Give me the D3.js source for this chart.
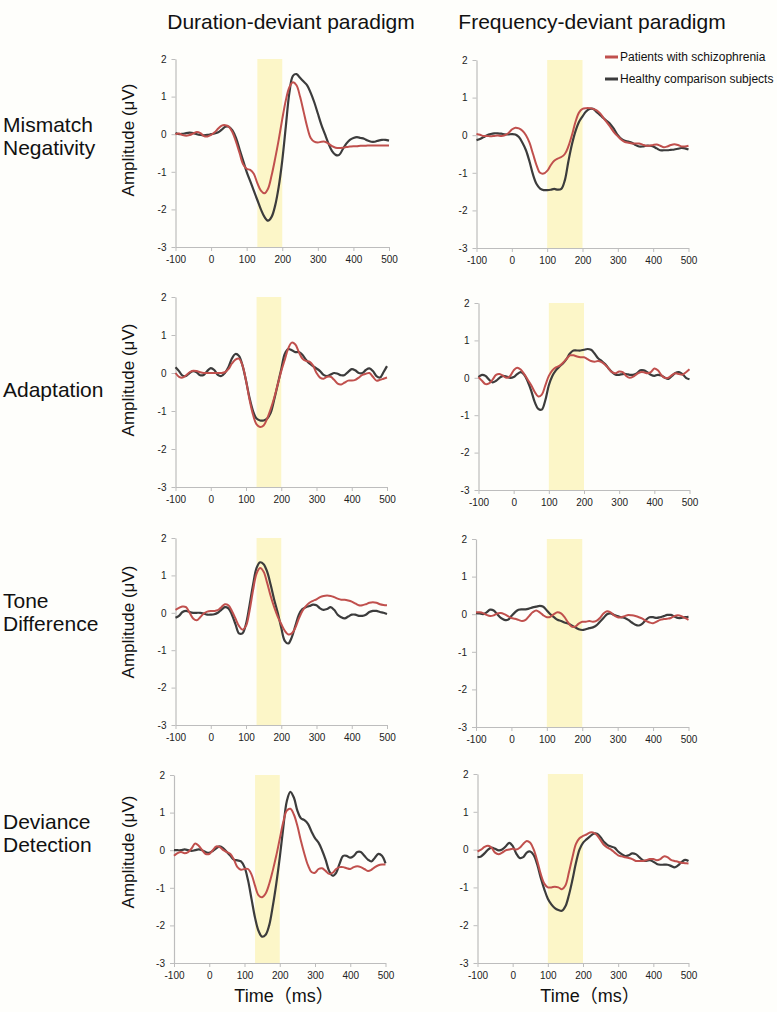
<!DOCTYPE html>
<html>
<head>
<meta charset="utf-8">
<script src="https://cdn.jsdelivr.net/npm/d3@7"></script>
<style>
  html, body { margin: 0; padding: 0; background: #fefefb; }
  svg { display: block; font-family: "Liberation Sans", Arial, "Noto Sans CJK JP", sans-serif; }
</style>
</head>
<body>
<svg id="chart" width="777" height="1012"></svg>
<script>
// ---------------- DATA ----------------
const times = d3.range(-100, 501, 10);
const columnTitles = ["Duration-deviant paradigm", "Frequency-deviant paradigm"];
const rowLabels = [["Mismatch", "Negativity"], ["Adaptation"], ["Tone", "Difference"], ["Deviance", "Detection"]];
const seriesNames = ["Patients with schizophrenia", "Healthy comparison subjects"];
const xTicks = [-100, 0, 100, 200, 300, 400, 500];
const yTicks = [-3, -2, -1, 0, 1, 2];
const shadeWindows = [[130, 200], [100, 200]]; // duration, frequency
const yAxisTitle = "Amplitude (\u03bcV)";
const xAxisTitle = "Time\uff08ms\uff09";

// Duration-deviant, Mismatch Negativity
const durMmnPatients = [0.0,0.02,-0.02,-0.04,-0.02,0.02,0.06,0.03,-0.05,-0.06,-0.02,0.05,0.15,0.23,0.24,0.2,0.05,-0.2,-0.5,-0.8,-0.92,-0.95,-1.05,-1.3,-1.5,-1.57,-1.45,-1.1,-0.65,-0.15,0.4,0.9,1.25,1.38,1.3,1.0,0.6,0.2,-0.1,-0.2,-0.22,-0.2,-0.2,-0.25,-0.32,-0.36,-0.37,-0.36,-0.34,-0.33,-0.32,-0.32,-0.31,-0.31,-0.3,-0.3,-0.3,-0.3,-0.3,-0.3,-0.3];
const durMmnHealthy = [0.03,0.0,0.01,0.03,0.04,0.03,0.0,-0.02,-0.03,-0.02,0.0,0.02,0.05,0.12,0.2,0.2,0.1,-0.1,-0.4,-0.7,-1.0,-1.25,-1.5,-1.75,-2.0,-2.2,-2.3,-2.2,-1.9,-1.4,-0.7,0.2,1.1,1.55,1.6,1.5,1.4,1.3,1.1,0.85,0.55,0.25,0.0,-0.25,-0.45,-0.55,-0.55,-0.4,-0.25,-0.15,-0.1,-0.08,-0.1,-0.12,-0.17,-0.2,-0.2,-0.17,-0.15,-0.15,-0.17];
// Frequency-deviant, Mismatch Negativity
const freqMmnPatients = [0.03,0.01,-0.02,-0.02,-0.03,-0.02,-0.01,-0.02,0.0,0.05,0.15,0.2,0.18,0.12,0.0,-0.2,-0.5,-0.8,-1.0,-1.02,-0.95,-0.8,-0.68,-0.62,-0.58,-0.5,-0.3,0.0,0.35,0.6,0.7,0.72,0.72,0.7,0.66,0.58,0.45,0.33,0.2,0.07,-0.03,-0.12,-0.18,-0.2,-0.22,-0.22,-0.22,-0.25,-0.28,-0.28,-0.26,-0.25,-0.28,-0.32,-0.3,-0.26,-0.24,-0.26,-0.3,-0.3,-0.28];
const freqMmnHealthy = [-0.13,-0.1,-0.05,0.0,0.03,0.05,0.05,0.04,0.02,0.02,0.03,0.02,-0.05,-0.2,-0.4,-0.7,-1.05,-1.3,-1.42,-1.46,-1.46,-1.45,-1.43,-1.45,-1.43,-1.2,-0.7,-0.25,0.1,0.35,0.5,0.63,0.7,0.7,0.62,0.53,0.45,0.37,0.28,0.15,0.0,-0.1,-0.15,-0.17,-0.2,-0.26,-0.3,-0.3,-0.28,-0.28,-0.3,-0.35,-0.4,-0.4,-0.4,-0.39,-0.38,-0.36,-0.34,-0.35,-0.38];
// Duration-deviant, Adaptation
const durAdaPatients = [0.0,-0.1,-0.12,-0.06,0.02,0.06,0.05,0.02,0.0,0.0,0.0,0.0,0.0,0.0,0.02,0.1,0.25,0.35,0.38,0.2,-0.2,-0.7,-1.1,-1.35,-1.42,-1.38,-1.2,-0.95,-0.65,-0.3,0.05,0.35,0.65,0.8,0.75,0.55,0.38,0.32,0.3,0.2,0.0,-0.12,-0.15,-0.1,-0.1,-0.18,-0.28,-0.3,-0.25,-0.2,-0.2,-0.18,-0.12,-0.05,-0.02,0.0,-0.1,-0.2,-0.18,-0.15,-0.12];
const durAdaHealthy = [0.15,0.05,-0.07,-0.08,0.0,0.05,0.02,-0.06,-0.05,0.05,0.13,0.08,-0.05,-0.08,0.0,0.15,0.38,0.5,0.45,0.2,-0.2,-0.65,-1.0,-1.2,-1.25,-1.25,-1.2,-1.05,-0.7,-0.3,0.1,0.5,0.63,0.6,0.55,0.55,0.48,0.35,0.25,0.18,0.12,0.05,-0.05,-0.08,-0.04,0.0,-0.02,-0.06,-0.05,0.03,0.1,0.07,0.0,0.0,0.08,0.12,0.05,-0.08,-0.12,0.02,0.18];
// Frequency-deviant, Adaptation
const freqAdaPatients = [0.02,-0.08,-0.17,-0.15,-0.05,0.08,0.1,0.05,0.0,0.05,0.2,0.27,0.22,0.1,-0.05,-0.2,-0.38,-0.5,-0.45,-0.2,0.05,0.2,0.28,0.32,0.4,0.5,0.6,0.6,0.57,0.55,0.55,0.5,0.45,0.43,0.45,0.42,0.35,0.25,0.15,0.12,0.17,0.15,0.05,0.0,0.03,0.1,0.15,0.15,0.12,0.15,0.25,0.2,0.07,0.0,0.0,0.07,0.12,0.1,0.08,0.15,0.23];
const freqAdaHealthy = [0.02,0.08,0.05,-0.05,-0.12,-0.08,0.0,0.05,0.03,0.0,0.02,0.1,0.15,0.08,-0.1,-0.35,-0.65,-0.83,-0.85,-0.6,-0.2,0.05,0.2,0.3,0.38,0.5,0.65,0.73,0.73,0.73,0.75,0.77,0.75,0.65,0.52,0.45,0.37,0.25,0.15,0.08,0.08,0.1,0.1,0.08,0.08,0.12,0.2,0.2,0.15,0.08,0.05,0.08,0.06,0.0,-0.03,0.05,0.13,0.15,0.1,0.0,-0.04];
// Duration-deviant, Tone Difference
const durTonePatients = [0.08,0.13,0.17,0.15,0.0,-0.15,-0.2,-0.12,-0.02,0.03,0.05,0.05,0.07,0.15,0.23,0.2,0.05,-0.15,-0.35,-0.45,-0.35,0.05,0.6,1.05,1.2,1.1,0.8,0.45,0.15,-0.1,-0.3,-0.48,-0.58,-0.55,-0.4,-0.15,0.05,0.18,0.27,0.32,0.36,0.42,0.45,0.46,0.45,0.42,0.38,0.35,0.35,0.33,0.3,0.25,0.2,0.2,0.23,0.27,0.28,0.27,0.23,0.21,0.2];
const durToneHealthy = [-0.13,-0.08,0.02,0.05,0.02,0.0,0.0,0.0,-0.02,-0.05,-0.05,-0.04,0.0,0.08,0.15,0.12,-0.05,-0.3,-0.55,-0.55,-0.3,0.2,0.75,1.2,1.35,1.3,1.1,0.75,0.35,0.0,-0.4,-0.75,-0.82,-0.65,-0.35,-0.05,0.1,0.15,0.18,0.22,0.2,0.12,0.08,0.1,0.15,0.08,-0.05,-0.12,-0.15,-0.1,-0.05,-0.05,-0.08,-0.08,-0.05,0.02,0.05,0.05,0.02,0.0,-0.03];
// Frequency-deviant, Tone Difference
const freqTonePatients = [0.05,0.05,0.03,-0.02,-0.05,-0.03,0.02,0.03,0.0,-0.05,-0.1,-0.12,-0.15,-0.18,-0.15,-0.05,0.05,0.1,0.05,-0.03,-0.08,-0.07,0.0,0.05,0.02,-0.08,-0.22,-0.33,-0.33,-0.25,-0.2,-0.2,-0.18,-0.2,-0.18,-0.1,0.02,0.08,0.05,-0.03,-0.08,-0.08,-0.05,-0.02,-0.03,-0.05,-0.08,-0.12,-0.18,-0.22,-0.24,-0.2,-0.15,-0.13,-0.12,-0.1,-0.05,-0.03,-0.05,-0.1,-0.15];
const freqToneHealthy = [0.03,0.02,0.0,0.05,0.12,0.1,0.0,-0.1,-0.15,-0.15,-0.05,0.05,0.12,0.13,0.13,0.15,0.18,0.2,0.22,0.2,0.1,0.0,-0.08,-0.15,-0.18,-0.22,-0.25,-0.3,-0.35,-0.4,-0.42,-0.4,-0.37,-0.35,-0.3,-0.2,-0.1,0.0,0.02,-0.02,-0.05,-0.08,-0.1,-0.15,-0.22,-0.28,-0.3,-0.25,-0.15,-0.08,-0.08,-0.1,-0.08,-0.05,-0.02,-0.02,-0.06,-0.1,-0.1,-0.08,-0.07];
// Duration-deviant, Deviance Detection
const durDevPatients = [-0.15,-0.08,-0.05,-0.08,-0.05,0.05,0.18,0.12,0.0,-0.1,-0.1,0.0,0.1,0.08,0.0,-0.05,-0.1,-0.25,-0.45,-0.52,-0.5,-0.5,-0.65,-0.95,-1.2,-1.25,-1.15,-0.9,-0.55,-0.15,0.3,0.75,1.05,1.1,0.95,0.65,0.25,-0.1,-0.4,-0.58,-0.6,-0.5,-0.48,-0.55,-0.63,-0.6,-0.5,-0.45,-0.45,-0.48,-0.5,-0.45,-0.43,-0.45,-0.5,-0.55,-0.52,-0.45,-0.4,-0.38,-0.38];
const durDevHealthy = [0.0,0.0,0.0,0.02,0.0,-0.02,0.0,0.02,0.0,-0.05,-0.07,-0.02,0.05,0.1,0.05,-0.05,-0.15,-0.25,-0.27,-0.3,-0.45,-0.8,-1.3,-1.8,-2.15,-2.3,-2.25,-2.0,-1.5,-0.9,-0.2,0.6,1.3,1.55,1.4,1.05,0.85,0.8,0.7,0.5,0.32,0.2,0.0,-0.25,-0.55,-0.68,-0.6,-0.35,-0.15,-0.15,-0.2,-0.15,-0.05,-0.05,-0.15,-0.25,-0.3,-0.2,-0.1,-0.15,-0.35];
// Frequency-deviant, Deviance Detection
const freqDevPatients = [-0.05,0.0,0.07,0.1,0.05,-0.08,-0.12,-0.08,-0.02,0.0,0.02,0.0,0.05,0.15,0.23,0.18,0.0,-0.3,-0.65,-0.9,-1.0,-1.0,-0.98,-1.0,-1.05,-0.95,-0.6,-0.2,0.15,0.3,0.36,0.4,0.45,0.45,0.38,0.25,0.12,0.05,0.0,-0.08,-0.15,-0.18,-0.2,-0.22,-0.25,-0.3,-0.3,-0.3,-0.28,-0.25,-0.25,-0.28,-0.25,-0.18,-0.2,-0.27,-0.3,-0.32,-0.35,-0.36,-0.37];
const freqDevHealthy = [-0.2,-0.18,-0.1,0.0,0.05,0.02,-0.02,0.0,0.08,0.18,0.1,-0.1,-0.22,-0.2,-0.08,-0.05,-0.15,-0.4,-0.75,-1.05,-1.3,-1.45,-1.55,-1.6,-1.62,-1.5,-1.2,-0.8,-0.35,0.0,0.18,0.27,0.35,0.42,0.42,0.33,0.2,0.12,0.08,0.05,-0.05,-0.12,-0.17,-0.15,-0.1,-0.12,-0.2,-0.28,-0.3,-0.28,-0.32,-0.38,-0.4,-0.4,-0.4,-0.43,-0.47,-0.42,-0.33,-0.27,-0.3];

// ---------------- LAYOUT ----------------
const panels = [
  { row: 0, col: 0, x0: 175.5, x1: 389, y0: 59, y1: 247, pat: durMmnPatients, hc: durMmnHealthy },
  { row: 0, col: 1, x0: 476.5, x1: 688.5, y0: 60, y1: 248, pat: freqMmnPatients, hc: freqMmnHealthy },
  { row: 1, col: 0, x0: 175.5, x1: 387, y0: 297, y1: 487, pat: durAdaPatients, hc: durAdaHealthy },
  { row: 1, col: 1, x0: 478.5, x1: 689.5, y0: 303, y1: 490, pat: freqAdaPatients, hc: freqAdaHealthy },
  { row: 2, col: 0, x0: 175.5, x1: 387, y0: 538, y1: 725, pat: durTonePatients, hc: durToneHealthy },
  { row: 2, col: 1, x0: 476, x1: 688.5, y0: 539, y1: 727, pat: freqTonePatients, hc: freqToneHealthy },
  { row: 3, col: 0, x0: 174, x1: 385.5, y0: 775, y1: 963, pat: durDevPatients, hc: durDevHealthy },
  { row: 3, col: 1, x0: 477.5, x1: 688.5, y0: 774, y1: 963, pat: freqDevPatients, hc: freqDevHealthy }
];
const rowLabelLayout = [
  { x: 3, ys: [132, 155], ylabCy: 140 },
  { x: 3, ys: [397], ylabCy: 380 },
  { x: 3, ys: [608, 631], ylabCy: 622 },
  { x: 3, ys: [829, 852], ylabCy: 852 }
];
const colTitleX = [291, 592];
const colorPat = "#c0504d";
const colorHc = "#3c3c3c";
const shadeColor = "#fcf6c8";
const axisColor = "#bdbdbd";

const svg = d3.select("#chart");

// column titles
svg.selectAll("text.coltitle").data(columnTitles).join("text")
  .attr("class", "coltitle")
  .attr("x", (d, i) => colTitleX[i]).attr("y", 29)
  .attr("text-anchor", "middle")
  .attr("font-size", 21).attr("fill", "#111")
  .text(d => d);

// row labels
rowLabels.forEach((lines, r) => {
  const L = rowLabelLayout[r];
  lines.forEach((t, k) => {
    svg.append("text").attr("x", L.x).attr("y", L.ys[k])
      .attr("font-size", 21).attr("fill", "#111").text(t);
  });
  svg.append("text")
    .attr("transform", `translate(134,${L.ylabCy}) rotate(-90)`)
    .attr("text-anchor", "middle")
    .attr("font-size", 17).attr("fill", "#111")
    .text(yAxisTitle);
});

panels.forEach(p => {
  const x = d3.scaleLinear().domain([-100, 500]).range([p.x0, p.x1]);
  const y = d3.scaleLinear().domain([-3, 2]).range([p.y1, p.y0]);
  const g = svg.append("g");
  const win = shadeWindows[p.col];
  g.append("rect")
    .attr("x", x(win[0])).attr("width", x(win[1]) - x(win[0]))
    .attr("y", y(2)).attr("height", y(-3) - y(2))
    .attr("fill", shadeColor);

  const xAxis = g.append("g").attr("transform", `translate(0,${y(-3)})`)
    .call(d3.axisBottom(x).tickValues(xTicks).tickSize(4).tickSizeOuter(0).tickFormat(d => String(d)));
  const yAxis = g.append("g").attr("transform", `translate(${x(-100)},0)`)
    .call(d3.axisLeft(y).tickValues(yTicks).tickSize(4).tickSizeOuter(0).tickFormat(d => String(d)));
  [xAxis, yAxis].forEach(a => {
    a.select(".domain").attr("stroke", axisColor).attr("stroke-width", 1.2);
    a.selectAll(".tick line").attr("stroke", axisColor);
    a.selectAll(".tick text").attr("fill", "#222").attr("font-size", 10)
      .attr("font-family", "'Liberation Sans', Arial, sans-serif");
  });
  xAxis.selectAll(".tick text").attr("dy", "0.95em").attr("y", 6);
  yAxis.selectAll(".tick text").attr("x", -9);

  const line = d3.line().x((d, i) => x(times[i])).y(d => y(d)).curve(d3.curveCatmullRom.alpha(0.5));
  g.append("path").datum(p.hc).attr("d", line).attr("fill", "none")
    .attr("stroke", colorHc).attr("stroke-width", 2.2);
  g.append("path").datum(p.pat).attr("d", line).attr("fill", "none")
    .attr("stroke", colorPat).attr("stroke-width", 2);
});

// legend
const legend = svg.append("g");
seriesNames.forEach((name, i) => {
  const yy = 57 + i * 22;
  legend.append("line").attr("x1", 605).attr("x2", 618).attr("y1", yy).attr("y2", yy)
    .attr("stroke", i === 0 ? colorPat : colorHc).attr("stroke-width", 3);
  legend.append("text").attr("x", 620).attr("y", yy + 4)
    .attr("font-size", 12).attr("fill", "#111").text(name);
});

// x axis titles
[ { x: 284 }, { x: 590 } ].forEach(t => {
  svg.append("text").attr("x", t.x).attr("y", 1002).attr("text-anchor", "middle")
    .attr("font-size", 18).attr("fill", "#111").text(xAxisTitle);
});
</script>
</body>
</html>
